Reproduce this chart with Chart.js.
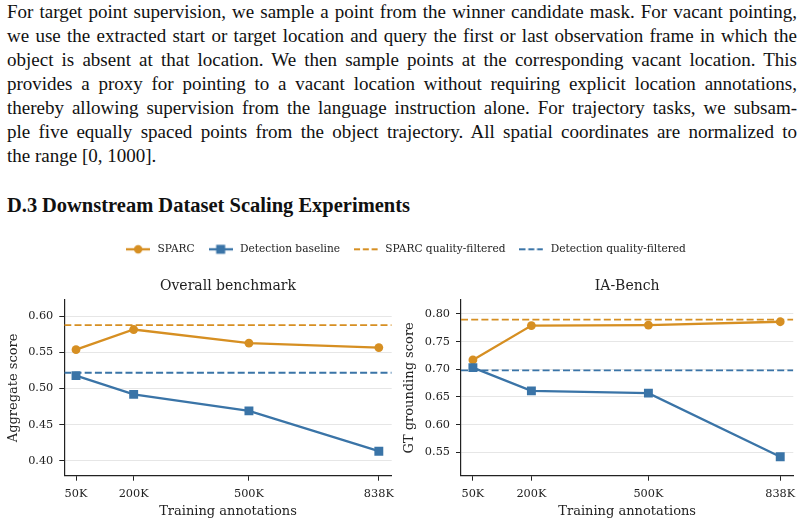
<!DOCTYPE html>
<html>
<head>
<meta charset="utf-8">
<script src="https://cdn.jsdelivr.net/npm/chart.js@4.4.1/dist/chart.umd.min.js"></script>
<style>
body { margin: 0; width: 804px; height: 524px; background: #fff; position: relative; overflow: hidden; }
#para { position: absolute; left: 7px; top: 0px; font-family: 'Liberation Serif', 'Times New Roman', serif; font-size: 19px; line-height: 24px; color: #111; }
.ln { white-space: nowrap; height: 24px; }
.ln span { display: inline-block; white-space: nowrap; }
#head { position: absolute; left: 7px; top: 193px; font-family: 'Liberation Serif', serif; font-weight: bold; font-size: 20.5px; line-height: 24px; color: #111; white-space: nowrap; }
#head b { display: inline-block; width: 35px; }
canvas { position: absolute; }
</style>
</head>
<body>
<div id="para">
  <div class="ln j"><span>For target point supervision, we sample a point from the winner candidate mask. For vacant pointing,</span></div>
  <div class="ln j"><span>we use the extracted start or target location and query the first or last observation frame in which the</span></div>
  <div class="ln j"><span>object is absent at that location. We then sample points at the corresponding vacant location. This</span></div>
  <div class="ln j"><span>provides a proxy for pointing to a vacant location without requiring explicit location annotations,</span></div>
  <div class="ln j"><span>thereby allowing supervision from the language instruction alone. For trajectory tasks, we subsam-</span></div>
  <div class="ln j"><span>ple five equally spaced points from the object trajectory. All spatial coordinates are normalized to</span></div>
  <div class="ln"><span>the range [0, 1000].</span></div>
</div>
<div id="head"><b>D.3</b>Downstream Dataset Scaling Experiments</div>

<canvas id="legend" width="804" height="80" style="left:2.5px;top:232px"></canvas>
<canvas id="overall" width="398" height="254" style="left:0;top:270px"></canvas>
<canvas id="iabench" width="406" height="254" style="left:398px;top:270px"></canvas>

<script>
// training annotations (thousands)
const xTicks = [50, 200, 500, 838];
const xTickLabels = ['50K', '200K', '500K', '838K'];

// Overall benchmark
const sparcOverall = [0.554, 0.582, 0.563, 0.557];
const detOverall = [0.518, 0.492, 0.469, 0.413];
const sparcQfOverall = 0.588;
const detQfOverall = 0.522;
const yTicksOverall = [0.40, 0.45, 0.50, 0.55, 0.60];

// IA-Bench
const sparcIA = [0.717, 0.779, 0.780, 0.786];
const detIA = [0.703, 0.661, 0.657, 0.542];
const sparcQfIA = 0.790;
const detQfIA = 0.698;
const yTicksIA = [0.55, 0.60, 0.65, 0.70, 0.75, 0.80];

const legendNames = ['SPARC', 'Detection baseline', 'SPARC quality-filtered', 'Detection quality-filtered'];

const ORANGE = '#d68f22';
const BLUE = '#3a74a7';
const X_MIN = 19.5, X_MAX = 871.5;

// justify paragraph lines to the text width
document.querySelectorAll('.ln.j span').forEach(el => {
    const w = el.getBoundingClientRect().width;
    const n = (el.textContent.match(/ /g) || []).length;
    el.style.wordSpacing = ((790 - w) / n) + 'px';
});

Chart.defaults.font.family = "'DejaVu Serif', serif";
Chart.defaults.color = '#222';
Chart.defaults.animation = false;

function makePanel(id, title, yTitle, sparc, det, sparcQf, detQf, yTicks, yMin, yMax, yAxisW, padRight, yTitlePad) {
    const pts = arr => xTicks.map((x, i) => ({x: x, y: arr[i]}));
    const flat = v => [{x: X_MIN, y: v}, {x: X_MAX, y: v}];
    return new Chart(document.getElementById(id), {
        type: 'line',
        data: {
            datasets: [{
                label: legendNames[1],
                data: pts(det),
                borderColor: BLUE,
                backgroundColor: BLUE,
                borderWidth: 2.3,
                pointStyle: 'rect',
                pointRadius: 6.3,
                pointBorderWidth: 0,
                tension: 0,
                order: 0
            }, {
                label: legendNames[0],
                data: pts(sparc),
                borderColor: ORANGE,
                backgroundColor: ORANGE,
                borderWidth: 2.3,
                pointStyle: 'circle',
                pointRadius: 4.4,
                pointBorderWidth: 0,
                tension: 0,
                order: 1
            }, {
                label: legendNames[2],
                data: flat(sparcQf),
                borderColor: ORANGE,
                borderWidth: 1.8,
                borderDash: [7, 3.2],
                pointRadius: 0,
                order: 2
            }, {
                label: legendNames[3],
                data: flat(detQf),
                borderColor: BLUE,
                borderWidth: 1.8,
                borderDash: [7, 3.2],
                pointRadius: 0,
                order: 3
            }]
        },
        options: {
            responsive: false,
            events: [],
            layout: { padding: { left: 0, right: padRight, top: 0, bottom: 0 } },
            plugins: {
                legend: { display: false },
                tooltip: { enabled: false },
                title: {
                    display: true,
                    text: title,
                    fullSize: false,
                    font: { size: 14, weight: 'normal' },
                    color: '#222',
                    padding: { top: 7.6, bottom: 5.6 }
                }
            },
            scales: {
                x: {
                    type: 'linear',
                    min: X_MIN,
                    max: X_MAX,
                    afterBuildTicks: s => { s.ticks = xTicks.map(v => ({value: v})); },
                    afterFit: s => { s.height = 48.3; s.paddingLeft = 0; s.paddingRight = 0; },
                    ticks: {
                        font: { size: 11.3 },
                        color: '#222',
                        padding: 7,
                        maxRotation: 0,
                        callback: v => xTickLabels[xTicks.indexOf(v)]
                    },
                    grid: { drawOnChartArea: false, drawTicks: true, tickLength: 5, tickColor: '#222', tickWidth: 1 },
                    border: { display: true, color: '#222', width: 1.2 },
                    title: { display: true, text: 'Training annotations', font: { size: 13 }, color: '#222', padding: { top: 0, bottom: 4.4 } }
                },
                y: {
                    min: yMin,
                    max: yMax,
                    afterBuildTicks: s => { s.ticks = yTicks.map(v => ({value: v})); },
                    afterFit: s => { s.width = yAxisW; },
                    ticks: {
                        font: { size: 11.3 },
                        color: '#222',
                        padding: 6,
                        callback: v => v.toFixed(2)
                    },
                    grid: { color: '#e6e6e6', lineWidth: 1, tickLength: 5, tickColor: '#222', tickWidth: 1 },
                    border: { display: true, color: '#222', width: 1.2 },
                    title: { display: true, text: yTitle, font: { size: 13 }, color: '#222', padding: { top: yTitlePad, bottom: 0 } }
                }
            }
        }
    });
}

makePanel('overall', 'Overall benchmark', 'Aggregate score', sparcOverall, detOverall,
    sparcQfOverall, detQfOverall, yTicksOverall, 0.379, 0.623, 64.3, 1.3, 6);
makePanel('iabench', 'IA-Bench', 'GT grounding score', sparcIA, detIA,
    sparcQfIA, detQfIA, yTicksIA, 0.5077, 0.8253, 63, 10.7, 3.7);

// shared legend
function handle(color, marker, dashed) {
    const c = document.createElement('canvas');
    c.width = 24;
    c.height = 12;
    const g = c.getContext('2d');
    g.strokeStyle = color;
    g.fillStyle = color;
    g.lineWidth = dashed ? 1.8 : 2.3;
    if (dashed) g.setLineDash([6, 2.8]);
    g.beginPath();
    g.moveTo(0, 6);
    g.lineTo(24, 6);
    g.stroke();
    if (marker === 'circle') {
        g.beginPath();
        g.arc(12, 6, 4.2, 0, Math.PI * 2);
        g.fill();
    } else if (marker === 'rect') {
        g.fillRect(7.5, 1.5, 9, 9);
    }
    return c;
}
const legendIcons = [
    handle(ORANGE, 'circle', false),
    handle(BLUE, 'rect', false),
    handle(ORANGE, null, true),
    handle(BLUE, null, true)
];
const legendColors = [ORANGE, BLUE, ORANGE, BLUE];

new Chart(document.getElementById('legend'), {
    type: 'line',
    data: { datasets: [] },
    options: {
        responsive: false,
        events: [],
        layout: { padding: 0 },
        scales: { x: { display: false }, y: { display: false } },
        plugins: {
            tooltip: { enabled: false },
            legend: {
                display: true,
                position: 'top',
                labels: {
                    usePointStyle: true,
                    pointStyleWidth: 28,
                    padding: 12,
                    color: '#222',
                    font: { size: 10.6 },
                    generateLabels: () => legendNames.map((name, i) => ({
                        text: name,
                        pointStyle: legendIcons[i],
                        fillStyle: legendColors[i],
                        strokeStyle: legendColors[i],
                        lineWidth: 0,
                        hidden: false,
                        datasetIndex: i,
                        fontColor: '#222'
                    }))
                }
            }
        }
    }
});
</script>
</body>
</html>
